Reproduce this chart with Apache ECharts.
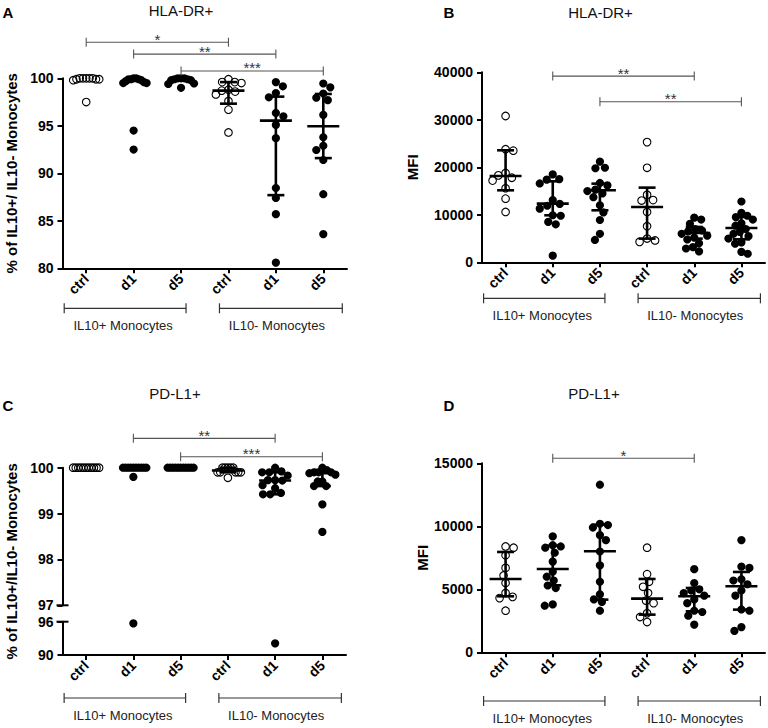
<!DOCTYPE html>
<html><head><meta charset="utf-8">
<script src="https://cdn.jsdelivr.net/npm/echarts@6/dist/echarts.min.js"></script>
<style>html,body{margin:0;padding:0;background:#fff}#c{width:768px;height:728px}</style>
</head><body><div id="c"></div>
<script>
// ---------------- DATA ----------------
const categories = ['ctrl', 'd1', 'd5', 'ctrl', 'd1', 'd5'];
const groupNames = ['IL10+ Monocytes', 'IL10- Monocytes'];
const openGroups = [0, 3];

// Panel A: HLA-DR+  (% of IL10+/IL10- monocytes)
const A_yTicks = [80, 85, 90, 95, 100];
const A_ctrlPos = [100, 100, 99.9, 100, 99.8, 100, 99.9, 100, 99.9, 97.5];
const A_d1Pos = [100, 99.9, 99.8, 99.5, 99.6, 99.9, 100, 99.7, 99.5, 99.9, 94.5, 92.5];
const A_d5Pos = [100, 100, 100, 99.9, 99.9, 99.8, 99.8, 99.45, 99.4, 99.0];
const A_ctrlNeg = [99.9, 99.6, 99.5, 99.6, 98.8, 98.7, 98.6, 98.3, 97.6, 96.7, 94.3];
const A_d1Neg = [99.6, 99.16, 98.45, 98.0, 96.35, 96.0, 95.1, 93.7, 88.45, 87.4, 85.7, 80.6];
const A_d5Neg = [99.45, 99.05, 98.4, 97.95, 97.7, 96.15, 93.8, 92.9, 92.45, 91.4, 87.8, 83.6];
const A_median = [null, null, null, 98.7, 95.55, 94.95];
const A_q1 = [null, null, null, 97.33, 87.7, 91.6];
const A_q3 = [null, null, null, 99.6, 98.07, 98.35];
const A_sig = [[0, 3, '*'], [1, 4, '**'], [2, 5, '***']];

// Panel B: HLA-DR+ MFI
const B_yTicks = [0, 10000, 20000, 30000, 40000];
const B_ctrlPos = [30800, 23800, 23500, 18800, 18300, 17800, 17200, 15600, 13400, 10600];
const B_d1Pos = [18500, 17500, 17400, 16600, 13100, 12300, 11900, 11300, 9900, 9800, 8500, 8000, 1400];
const B_d5Pos = [21200, 19900, 19800, 16700, 16200, 15300, 15000, 14500, 13700, 12000, 10500, 8900, 6000, 4700];
const B_ctrlNeg = [25300, 19900, 14200, 13100, 13000, 10600, 7600, 5000, 4600, 4300];
const B_d1Neg = [9400, 9000, 8100, 7000, 6700, 6500, 6000, 5600, 5200, 4800, 4000, 3200, 2900, 2300];
const B_d5Neg = [12800, 10400, 9800, 9500, 9000, 8200, 7700, 7000, 6400, 6000, 5500, 5000, 4200, 3900, 2200, 1800];
const B_median = [18180, 12350, 15160, 11650, 6176, 7229];
const B_q1 = [15160, 9900, 10950, 4983, 4983, 4842];
const B_q3 = [23580, 17050, 16560, 15720, 7440, 9545];
const B_sig = [[1, 4, '**'], [2, 5, '**']];

// Panel C: PD-L1+ (% of IL10+/IL10- monocytes), broken axis
const C_yTicksUpper = [97, 98, 99, 100];
const C_yTicksLower = [90, 96];
const C_ctrlPos = [100, 100, 100, 100, 100, 100, 100, 100, 100, 100, 100];
const C_d1Pos = [100, 100, 100, 100, 100, 100, 100, 100, 100, 100, 99.8, 95.7];
const C_d5Pos = [100, 100, 100, 100, 100, 100, 100, 100, 100, 100, 100];
const C_ctrlNeg = [100, 100, 100, 100, 100, 99.9, 99.9, 99.9, 99.9, 99.9, 99.78];
const C_d1Neg = [100, 99.92, 99.9, 99.9, 99.83, 99.73, 99.73, 99.72, 99.62, 99.55, 99.45, 99.42, 99.42, 92.1];
const C_d5Neg = [100, 99.95, 99.9, 99.9, 99.9, 99.88, 99.85, 99.7, 99.7, 99.6, 99.6, 99.2, 98.6];
const C_median = [null, null, null, 99.94, 99.72, 99.88];
const C_q1 = [null, null, null, 99.9, 99.42, 99.6];
const C_q3 = [null, null, null, 100, 99.9, 99.95];
const C_sig = [[1, 4, '**'], [2, 5, '***']];

// Panel D: PD-L1+ MFI
const D_yTicks = [0, 5000, 10000, 15000];
const D_ctrlPos = [8400, 8300, 7700, 6700, 6100, 5500, 4700, 4400, 4300, 3300];
const D_d1Pos = [9200, 8500, 8400, 8300, 7900, 7200, 6400, 6000, 5700, 5300, 5100, 3800, 3700];
const D_d5Pos = [13300, 10200, 10100, 9900, 9300, 8900, 8000, 6900, 5600, 4600, 4200, 4000, 3300];
const D_ctrlNeg = [8300, 6200, 5600, 5200, 4700, 4100, 3900, 3100, 2800, 2400];
const D_d1Neg = [6600, 5500, 5000, 4900, 4700, 4500, 4200, 3900, 3300, 3200, 2900, 2200];
const D_d5Neg = [8900, 6800, 6700, 5800, 5700, 5400, 4900, 4500, 3400, 3300, 2000, 1700];
const D_median = [5820, 6614, 8016, 4259, 4444, 5238];
const D_q1 = [4444, 5317, 4180, 2989, 3254, 3386];
const D_q3 = [7963, 8466, 10132, 5820, 5106, 6376];
const D_sig = [[1, 4, '*']];

// ---------------- LAYOUT / STYLE ----------------
const FONT = '"Liberation Sans", Arial, Helvetica, sans-serif';
const panels = [
  { letter: 'A', title: 'HLA-DR+', yName: '% of IL10+/ IL10- Monocytes',
    groups: [A_ctrlPos, A_d1Pos, A_d5Pos, A_ctrlNeg, A_d1Neg, A_d5Neg],
    median: A_median, q1: A_q1, q3: A_q3, sig: A_sig,
    segments: [{ ticks: A_yTicks, rect: { left: 62.5, top: 78.3, width: 284.5, height: 190 } }],
    titlePos: [181, 10], letterPos: [8, 12], nameGap: 44, groupDy: 40, sigLevels: [103.8, 102.55, 100.77] },
  { letter: 'B', title: 'HLA-DR+', yName: 'MFI',
    groups: [B_ctrlPos, B_d1Pos, B_d5Pos, B_ctrlNeg, B_d1Neg, B_d5Neg],
    median: B_median, q1: B_q1, q3: B_q3, sig: B_sig,
    segments: [{ ticks: B_yTicks, rect: { left: 482, top: 72.3, width: 283, height: 190 } }],
    titlePos: [600.5, 12], letterPos: [449, 12], nameGap: 62, groupDy: 36, sigLevels: [39200, 33800] },
  { letter: 'C', title: 'PD-L1+', yName: '% of IL10+/IL10- Monocytes',
    groups: [C_ctrlPos, C_d1Pos, C_d5Pos, C_ctrlNeg, C_d1Neg, C_d5Neg],
    median: C_median, q1: C_q1, q3: C_q3, sig: C_sig,
    segments: [
      { ticks: C_yTicksUpper, rect: { left: 62.5, top: 467.7, width: 283.5, height: 137.6 } },
      { ticks: C_yTicksLower, rect: { left: 62.5, top: 621.7, width: 283.5, height: 33.3 } }
    ],
    titlePos: [175, 393], letterPos: [8, 405], nameGap: 44, groupDy: 43, sigLevels: [100.64, 100.24] },
  { letter: 'D', title: 'PD-L1+', yName: 'MFI',
    groups: [D_ctrlPos, D_d1Pos, D_d5Pos, D_ctrlNeg, D_d1Neg, D_d5Neg],
    median: D_median, q1: D_q1, q3: D_q3, sig: D_sig,
    segments: [{ ticks: D_yTicks, rect: { left: 482, top: 463.3, width: 283, height: 189 } }],
    titlePos: [594, 393.5], letterPos: [449, 405], nameGap: 43, groupDy: 48.7, sigLevels: [15400] }
];

const DOT = 7.8;       // beeswarm collision diameter (px)
const MAX_HALF = 13;   // maximum horizontal half-spread of a group (px)

function swarmOffsets(vals, pxPerUnit) {
  const order = vals.map((v, i) => i).sort((a, b) => vals[b] - vals[a]);
  const placed = [];
  const off = new Array(vals.length).fill(0);
  let flip = 1;
  order.forEach(i => {
    const y = vals[i] * pxPerUnit;
    let best = null;
    for (let k = 0; k <= 400 && best === null; k++) {
      const cands = k === 0 ? [0] : [flip * k * 0.5, -flip * k * 0.5];
      for (const x of cands) {
        if (placed.every(p => (p.x - x) * (p.x - x) + (p.y - y) * (p.y - y) >= DOT * DOT)) { best = x; break; }
      }
    }
    if (best === null) best = 0;
    if (best !== 0) flip = -Math.sign(best);
    placed.push({ x: best, y });
    off[i] = best;
  });
  const maxAbs = Math.max(0, ...off.map(Math.abs));
  const f = maxAbs > MAX_HALF ? MAX_HALF / maxAbs : 1;
  return off.map(o => o * f);
}

const grids = [], xAxes = [], yAxes = [], series = [], graphics = [];
const axisLineStyle = { color: '#000', width: 2 };
const tickLabel = { color: '#000', fontFamily: FONT, fontWeight: 'bold', fontSize: 14 };

function barRender(params, api) {
  const x = api.value(0), m = api.value(1), lo = api.value(2), hi = api.value(3);
  const c = api.coord([x, m]), cl = api.coord([x, lo]), ch = api.coord([x, hi]);
  const st = { stroke: '#000', lineWidth: 2.6 };
  return { type: 'group', children: [
    { type: 'line', shape: { x1: c[0], y1: cl[1], x2: c[0], y2: ch[1] }, style: st },
    { type: 'line', shape: { x1: c[0] - 16, y1: c[1], x2: c[0] + 16, y2: c[1] }, style: st },
    { type: 'line', shape: { x1: c[0] - 8.5, y1: cl[1], x2: c[0] + 8.5, y2: cl[1] }, style: st },
    { type: 'line', shape: { x1: c[0] - 8.5, y1: ch[1], x2: c[0] + 8.5, y2: ch[1] }, style: st }
  ] };
}

panels.forEach(p => {
  const segs = [];
  const nSeg = p.segments.length;
  p.segments.forEach((s, si) => {
    const gi = grids.length;
    grids.push(Object.assign({ containLabel: false, outerBoundsMode: 'none' }, s.rect));
    const xv = xAxes.length;
    xAxes.push({ type: 'value', gridIndex: gi, min: -0.5, max: 5.5, show: false, axisLine: { onZero: false } });
    if (si === nSeg - 1) {
      xAxes.push({
        type: 'category', gridIndex: gi, data: categories, position: 'bottom',
        axisLine: { show: true, onZero: false, lineStyle: axisLineStyle },
        axisTick: { show: true, alignWithLabel: true, length: 5, interval: 0, lineStyle: { color: '#000', width: 2 } },
        axisLabel: Object.assign({ rotate: 45, margin: 8, interval: 0 }, tickLabel),
        splitLine: { show: false }
      });
    }
    const t = s.ticks;
    const yi = yAxes.length;
    yAxes.push({
      type: 'value', gridIndex: gi, min: t[0], max: t[t.length - 1], interval: t[1] - t[0], position: 'left',
      axisLine: { show: true, onZero: false, lineStyle: axisLineStyle },
      axisTick: { show: true, length: 5, lineStyle: { color: '#000', width: 2 } },
      axisLabel: Object.assign({ margin: 9, formatter: v => String(v) }, tickLabel),
      splitLine: { show: false },
      name: nSeg === 1 ? p.yName : '', nameLocation: 'middle', nameGap: p.nameGap,
      nameTextStyle: { color: '#000', fontFamily: FONT, fontWeight: 'bold', fontSize: 15 }
    });
    segs.push({ gi, xv, yi, s, min: t[0], max: t[t.length - 1] });
  });

  // y-axis name for broken axis: spans the whole height
  if (nSeg > 1) {
    const top = p.segments[0].rect, bot = p.segments[nSeg - 1].rect;
    const gi = grids.length;
    grids.push({ containLabel: false, outerBoundsMode: 'none', left: top.left, width: top.width,
      top: top.top, height: bot.top + bot.height - top.top });
    xAxes.push({ type: 'value', gridIndex: gi, show: false, axisLine: { onZero: false } });
    yAxes.push({ type: 'value', gridIndex: gi, min: 0, max: 1, position: 'left',
      axisLine: { show: false, onZero: false }, axisTick: { show: false }, axisLabel: { show: false }, splitLine: { show: false },
      name: p.yName, nameLocation: 'middle', nameGap: p.nameGap,
      nameTextStyle: { color: '#000', fontFamily: FONT, fontWeight: 'bold', fontSize: 15 } });
    // break marks
    [[0, p.segments[0].ticks[0]], [nSeg - 1, p.segments[nSeg - 1].ticks[p.segments[nSeg - 1].ticks.length - 1]]].forEach(([si, v]) => {
      series.push({ type: 'custom', xAxisIndex: segs[si].xv, yAxisIndex: segs[si].yi, silent: true, z: 6,
        data: [[-0.5, v]],
        renderItem: (params, api) => {
          const c = api.coord([api.value(0), api.value(1)]);
          return { type: 'line', shape: { x1: c[0] - 6, y1: c[1], x2: c[0] + 6, y2: c[1] }, style: { stroke: '#000', lineWidth: 2 } };
        } });
    });
  }

  const catW = p.segments[0].rect.width / categories.length;
  // scatter points
  segs.forEach((sg, si) => {
    const pxPerUnit = sg.s.rect.height / (sg.max - sg.min);
    const open = [], filled = [];
    p.groups.forEach((vals, g) => {
      const inSeg = vals.filter(v => segs.findIndex(q => v >= q.min - 1e-9) === si);
      const off = swarmOffsets(inSeg, pxPerUnit);
      inSeg.forEach((v, k) => {
        (openGroups.includes(g) ? open : filled).push([g + off[k] / catW, v]);
      });
    });
    series.push({ type: 'scatter', xAxisIndex: sg.xv, yAxisIndex: sg.yi, data: filled, symbolSize: 8.2, clip: false,
      silent: true, z: 3, itemStyle: { color: '#000', opacity: 1 } });
    series.push({ type: 'scatter', xAxisIndex: sg.xv, yAxisIndex: sg.yi, data: open, symbolSize: 7.6, clip: false,
      silent: true, z: 3, itemStyle: { color: 'rgba(255,255,255,0)', borderColor: '#000', borderWidth: 1.1, opacity: 1 } });
  });

  // median + interquartile bars (drawn in the top segment)
  const barData = [];
  p.median.forEach((m, g) => { if (m !== null) barData.push([g, m, p.q1[g], p.q3[g]]); });
  series.push({ type: 'custom', xAxisIndex: segs[0].xv, yAxisIndex: segs[0].yi, silent: true, z: 5,
    data: barData, renderItem: barRender });

  // significance brackets
  const sig = p.sig, levels = p.sigLevels;
  series.push({ type: 'custom', xAxisIndex: segs[0].xv, yAxisIndex: segs[0].yi, silent: true, z: 6,
    data: sig.map(s => [s[0], s[1]]),
    renderItem: (params, api) => {
      const i = params.dataIndex;
      const a = api.coord([api.value(0), levels[i]]), b = api.coord([api.value(1), levels[i]]);
      const st = { stroke: '#555', lineWidth: 1.1 };
      return { type: 'group', children: [
        { type: 'line', shape: { x1: a[0], y1: a[1], x2: b[0], y2: b[1] }, style: st },
        { type: 'line', shape: { x1: a[0], y1: a[1] - 4.5, x2: a[0], y2: a[1] + 4.5 }, style: st },
        { type: 'line', shape: { x1: b[0], y1: b[1] - 4.5, x2: b[0], y2: b[1] + 4.5 }, style: st },
        { type: 'text', style: { text: sig[i][2], x: (a[0] + b[0]) / 2, y: a[1] - 3,
          textAlign: 'center', textVerticalAlign: 'middle', font: '15px ' + FONT, fill: '#333' } }
      ] };
    } });

  // group brackets below the x axis
  const last = segs[nSeg - 1];
  const gdy = p.groupDy;
  series.push({ type: 'custom', xAxisIndex: last.xv, yAxisIndex: last.yi, silent: true, z: 6,
    data: [[0, 2], [3, 5]],
    renderItem: (params, api) => {
      const i = params.dataIndex;
      const a = api.coord([api.value(0), last.min]), b = api.coord([api.value(1), last.min]);
      const y = a[1] + gdy;
      const x1 = i === 0 ? a[0] - 22 : a[0] - 9;
      const x2 = i === 0 ? b[0] + 5 : b[0] + 19;
      const st = { stroke: '#333', lineWidth: 1.2 };
      return { type: 'group', children: [
        { type: 'line', shape: { x1, y1: y, x2, y2: y }, style: st },
        { type: 'line', shape: { x1, y1: y - 5, x2: x1, y2: y + 5 }, style: st },
        { type: 'line', shape: { x1: x2, y1: y - 5, x2, y2: y + 5 }, style: st },
        { type: 'text', style: { text: groupNames[i], x: (x1 + x2) / 2 - (i === 0 ? 2 : 4), y: y + 17,
          textAlign: 'center', textVerticalAlign: 'middle', font: '13px ' + FONT, fill: '#222' } }
      ] };
    } });

  graphics.push({ type: 'text', x: p.titlePos[0], y: p.titlePos[1], silent: true,
    style: { text: p.title, font: '15px ' + FONT, fill: '#111', textAlign: 'center', textVerticalAlign: 'middle' } });
  graphics.push({ type: 'text', x: p.letterPos[0], y: p.letterPos[1], silent: true,
    style: { text: p.letter, font: 'bold 15px ' + FONT, fill: '#000', textAlign: 'center', textVerticalAlign: 'middle' } });
});

const chart = echarts.init(document.getElementById('c'), null, { renderer: 'svg', width: 768, height: 728 });
chart.setOption({
  backgroundColor: '#fff',
  animation: false,
  grid: grids,
  xAxis: xAxes,
  yAxis: yAxes,
  series: series,
  graphic: graphics
});
</script>
</body></html>
